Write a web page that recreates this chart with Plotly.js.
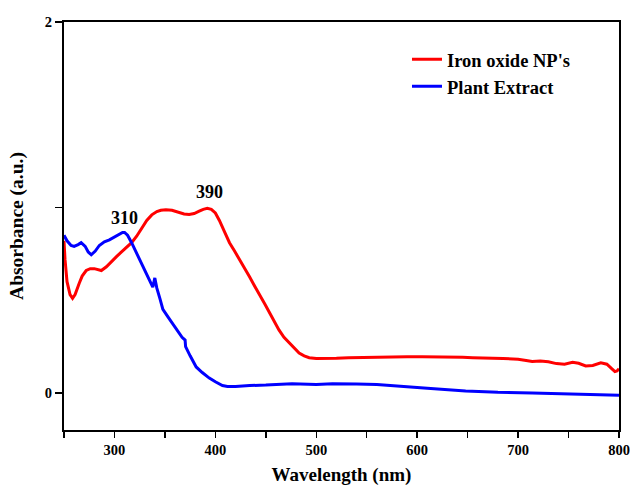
<!DOCTYPE html>
<html>
<head>
<meta charset="utf-8">
<script src="https://cdn.plot.ly/plotly-3.0.1.min.js"></script>
<style>html,body{margin:0;padding:0;background:#fff}#chart{width:630px;height:486px}</style>
</head>
<body>
<div id="chart"></div>
<script>
const seriesNames = ["Iron oxide NP's", "Plant Extract"];
const wavelengthRed = [250,251,253,256,258.5,261,265,268,272,276,280,284,287,292,297,302,307,312,317,322,327,332,337,342,346,351,357,363,369,374,379,384,388,392,396,400,404,409,414,419,424,429,434,439,444,449,454,459,463,468,473,478,483,488,493,500,510,520,532,545,560,575,590,605,620,632,645,655,664,675,685,691,700,708,714,722,730,738,746,754,760,767,774,782,788,793,796,798,800];
const absRed = [0.82,0.72,0.60,0.53,0.51,0.53,0.59,0.63,0.66,0.67,0.67,0.665,0.66,0.68,0.71,0.735,0.76,0.785,0.81,0.845,0.89,0.93,0.96,0.978,0.985,0.988,0.985,0.975,0.965,0.962,0.967,0.98,0.99,0.995,0.99,0.97,0.93,0.87,0.81,0.765,0.72,0.67,0.625,0.575,0.53,0.48,0.43,0.38,0.34,0.30,0.27,0.24,0.215,0.20,0.19,0.185,0.185,0.187,0.19,0.192,0.193,0.194,0.195,0.195,0.195,0.196,0.192,0.19,0.19,0.187,0.185,0.185,0.182,0.175,0.17,0.172,0.168,0.158,0.155,0.165,0.16,0.145,0.148,0.162,0.155,0.13,0.115,0.118,0.13];
const wavelengthBlue = [250,253,257,260,264,267,271,274,277,281,285,290,295,300,305,308,310,313,317,322,326,330,334,338,340,342,345,348,353,358,363,367,370,370.5,375,381,387,394,400,407,412,420,434,450,476,490,500,516,532,540,560,582,610,648,680,714,750,780,800];
const absBlue = [0.85,0.82,0.795,0.79,0.80,0.81,0.79,0.76,0.745,0.765,0.795,0.815,0.825,0.84,0.855,0.865,0.865,0.85,0.81,0.755,0.71,0.665,0.62,0.57,0.62,0.565,0.51,0.45,0.41,0.37,0.335,0.30,0.285,0.25,0.2,0.14,0.11,0.08,0.06,0.04,0.035,0.035,0.04,0.042,0.05,0.045,0.045,0.05,0.05,0.048,0.045,0.035,0.025,0.01,0.003,0.0,-0.005,-0.01,-0.012];
const xTickVals = [250,300,350,400,450,500,550,600,650,700,750,800];
const xTickText = ['','300','','400','','500','','600','','700','','800'];
const yTickVals = [0,1,2];
const yTickText = ['0','','2'];
const peakLabels = ['310','390'];
const peakX = [310,394];
const peakY = [0.88,1.02];

const fam = 'Liberation Serif, Times New Roman, serif';
const traces = [
  {x: wavelengthRed, y: absRed, name: seriesNames[0], mode: 'lines', line: {color: '#ff0000', width: 3}},
  {x: wavelengthBlue, y: absBlue, name: seriesNames[1], mode: 'lines', line: {color: '#0000ff', width: 3}}
];
const axisCommon = {showline: true, mirror: true, linecolor: '#000', linewidth: 2, ticks: 'outside', tickcolor: '#000', tickwidth: 1.5, showgrid: false, zeroline: false,
  tickfont: {family: fam, size: 14.5, weight: 'bold', color: '#000'}};
const layout = {
  width: 630, height: 486,
  margin: {l: 64, r: 11, t: 22, b: 56},
  paper_bgcolor: '#fff', plot_bgcolor: '#fff',
  showlegend: true,
  legend: {x: 0.618, y: 0.954, xanchor: 'left', yanchor: 'top', bgcolor: 'rgba(0,0,0,0)',
    font: {family: fam, size: 18.5, weight: 'bold', color: '#000'}, tracegroupgap: 0},
  xaxis: Object.assign({}, axisCommon, {range: [250, 800], tickmode: 'array', tickvals: xTickVals, ticktext: xTickText, ticklen: 6,
    title: {text: 'Wavelength (nm)', font: {family: fam, size: 19, weight: 'bold', color: '#000'}, standoff: 10}}),
  yaxis: Object.assign({}, axisCommon, {range: [-0.2, 2], tickmode: 'array', tickvals: yTickVals, ticktext: yTickText, ticklen: 7,
    title: {text: 'Absorbance (a.u.)', font: {family: fam, size: 19.5, weight: 'bold', color: '#000'}, standoff: 16}}),
  annotations: peakLabels.map((t, i) => ({x: peakX[i], y: peakY[i], xref: 'x', yref: 'y', text: t, showarrow: false, yanchor: 'bottom',
    font: {family: fam, size: 18, weight: 'bold', color: '#000'}}))
};
Plotly.newPlot('chart', traces, layout, {staticPlot: true, displayModeBar: false});
</script>
</body>
</html>
